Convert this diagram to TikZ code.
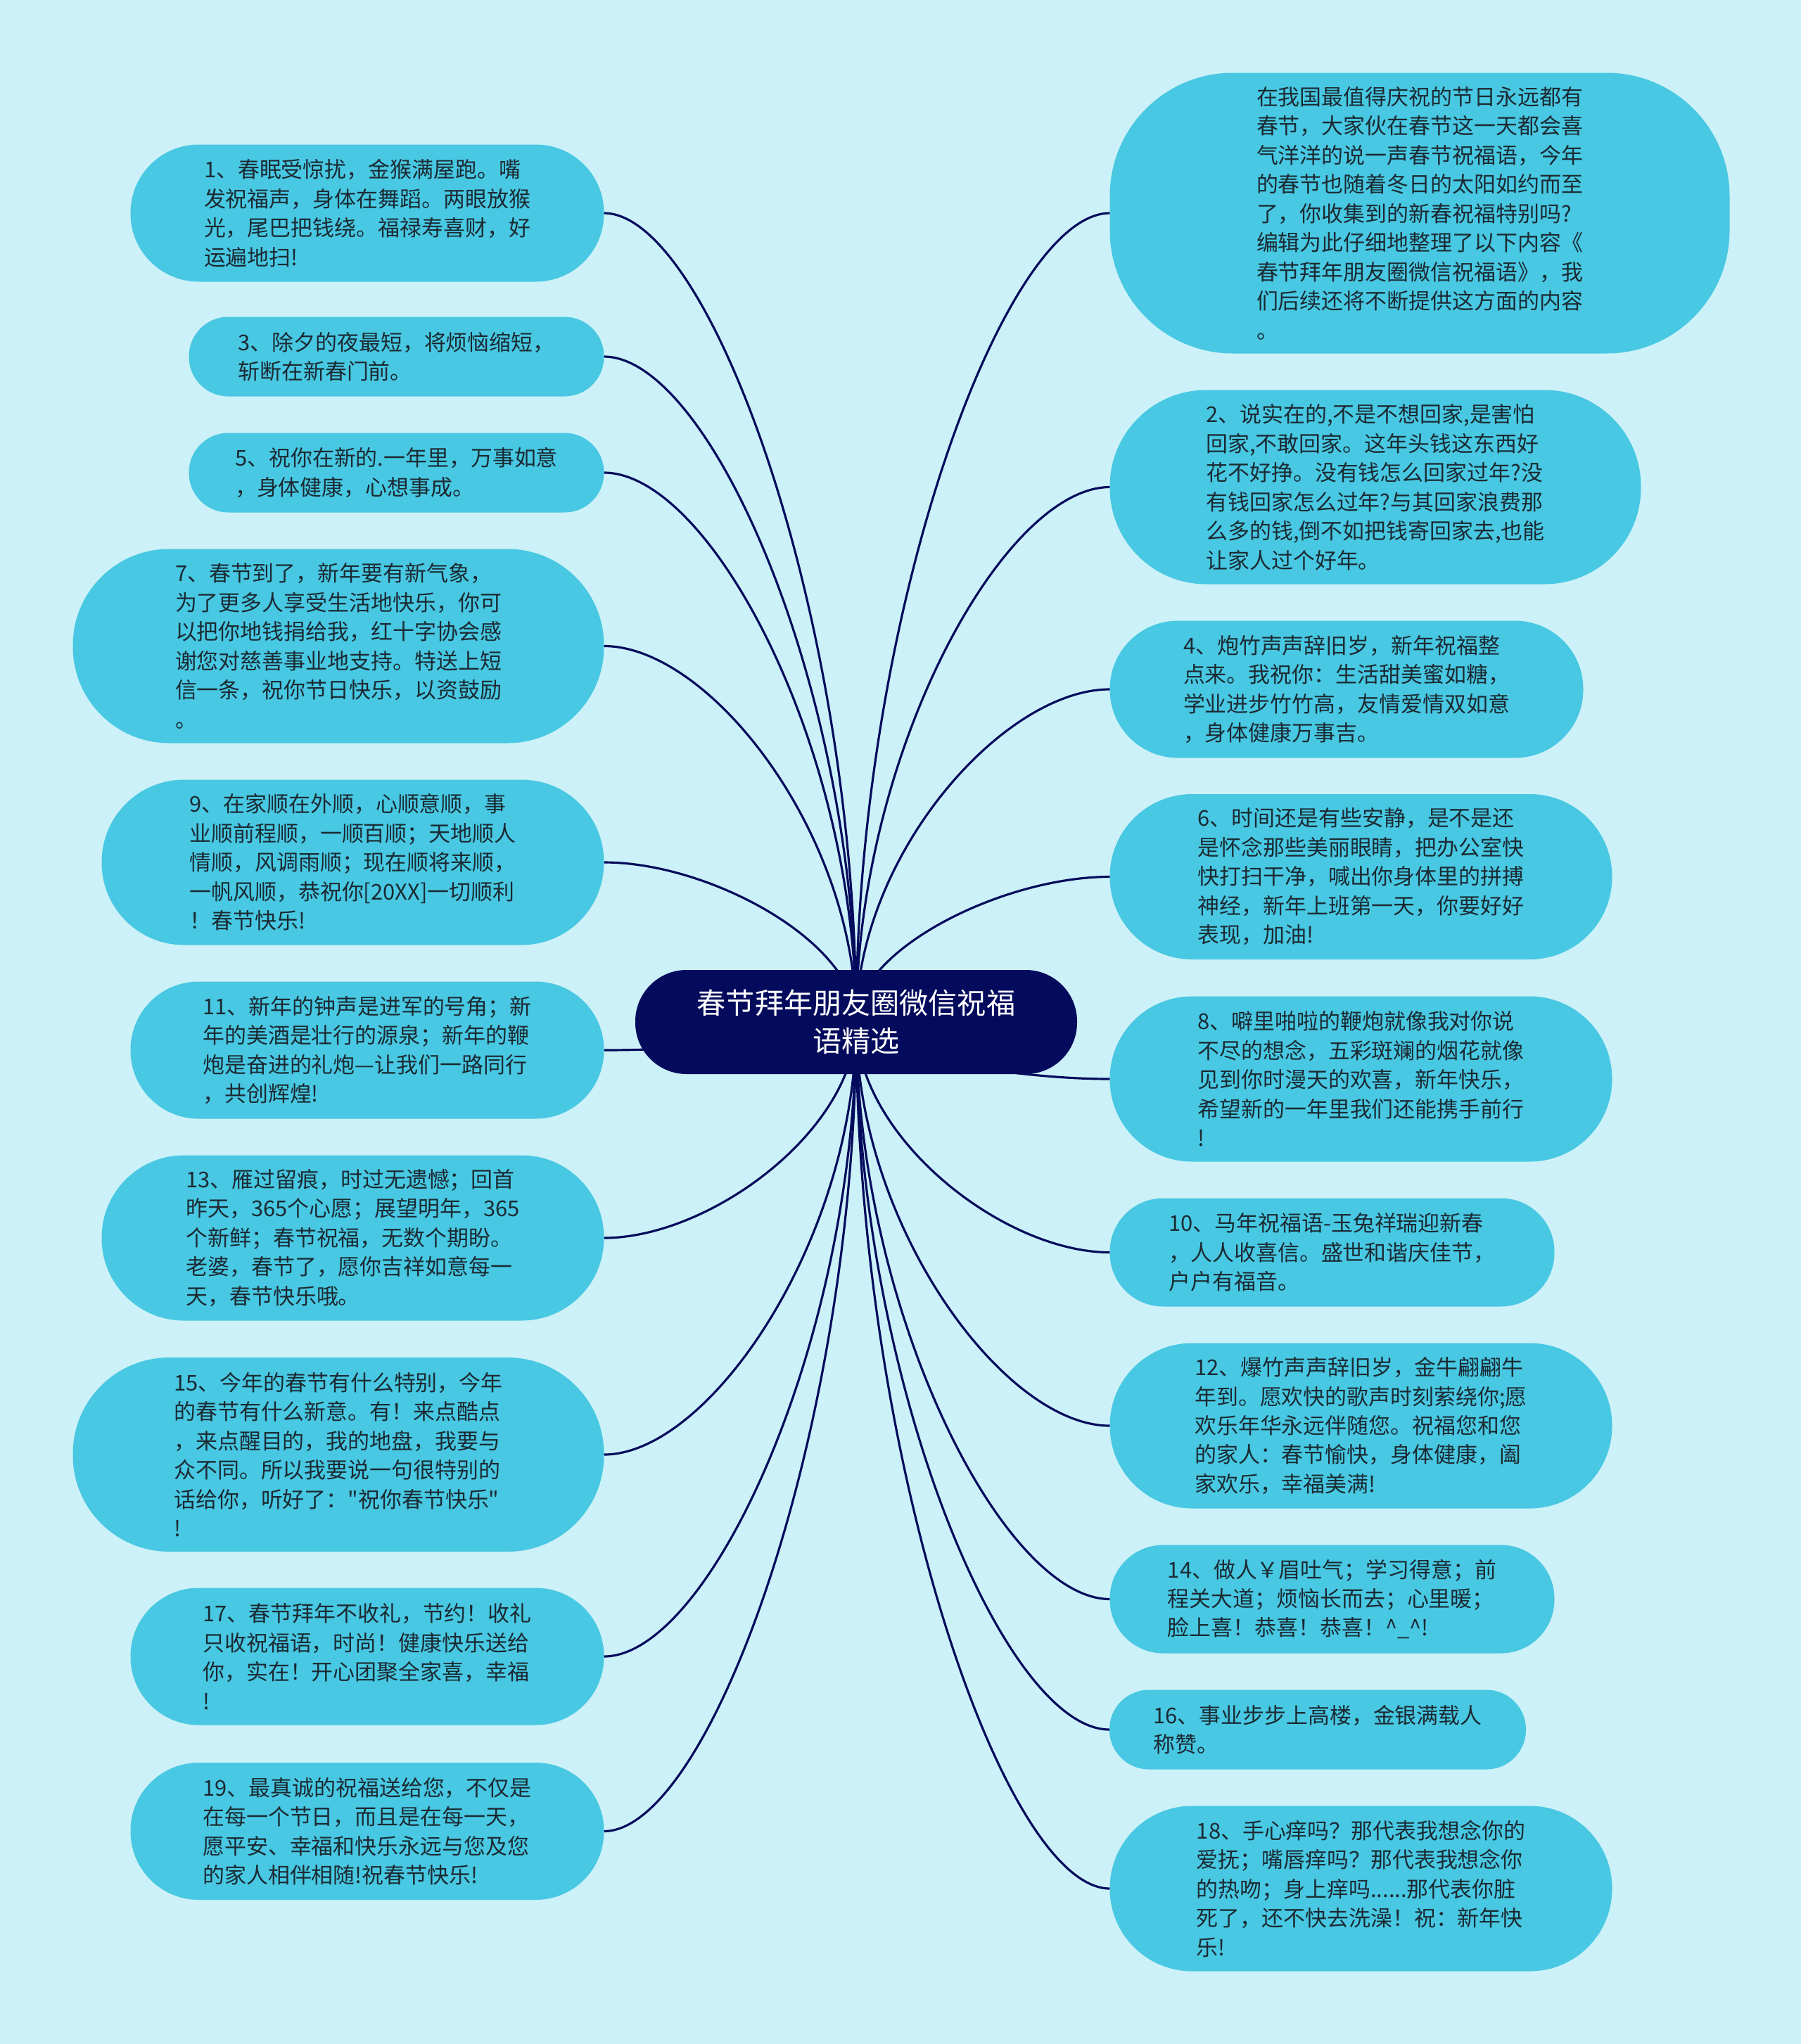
\documentclass[tikz,border=0pt]{standalone}
\usepackage{fontspec}
\setmainfont{Noto Sans CJK SC}[Ligatures=TeXOff]
\usepackage{xcolor}
\usepackage{tikz}
\usetikzlibrary{calc}

\definecolor{pagecyan}{HTML}{CCF1F8}
\definecolor{leafcyan}{HTML}{48C8E2}
\definecolor{navy}{HTML}{040B5C}
\definecolor{inkgray}{HTML}{1B2A33}

\newcommand{\leaffont}{\fontsize{8.8pt}{11.8pt}\selectfont}
\newcommand{\titlefont}{\fontsize{11.7pt}{15.3pt}\selectfont}

\pgfdeclarelayer{links}
\pgfsetlayers{links,main}

\tikzset{
  leaf/.style={fill=leafcyan, text=inkgray, font=\leaffont, align=left,
    inner sep=0pt, outer sep=0pt, rounded corners=#1},
  title/.style={fill=navy, text=white, font=\titlefont, align=center,
    inner sep=0pt, outer sep=0pt, rounded corners=0.73cm,
    minimum width=6.28cm, minimum height=1.48cm},
  link/.style={draw=navy, line width=0.9pt,
    to path={.. controls ($(\tikztostart)!0.5!(\tikztostart |- \tikztotarget)$)
      and ($(\tikztotarget)!0.42!(\tikztostart |- \tikztotarget)$) .. (\tikztotarget)}}
}

\begin{document}
\begin{tikzpicture}
  \useasboundingbox (0,0) rectangle (25.6,-29.06);
  \begin{pgfonlayer}{links}
    \fill[pagecyan] (0,0) rectangle (25.6,-29.06);
  \end{pgfonlayer}

  \node[title] (title) at (12.17,-14.53) {春节拜年朋友圈微信祝福\\语精选};

  % left column
  \node[leaf=0.97cm, minimum width=6.73cm, minimum height=1.95cm] (w1) at (5.22,-3.03)
    {1、春眠受惊扰，金猴满屋跑。嘴\\发祝福声，身体在舞蹈。两眼放猴\\光，尾巴把钱绕。福禄寿喜财，好\\运遍地扫!};
  \node[leaf=0.56cm, minimum width=5.90cm, minimum height=1.13cm] (w3) at (5.635,-5.07)
    {3、除夕的夜最短，将烦恼缩短，\\斩断在新春门前。};
  \node[leaf=0.56cm, minimum width=5.90cm, minimum height=1.13cm] (w5) at (5.635,-6.72)
    {5、祝你在新的.一年里，万事如意\\，身体健康，心想事成。};
  \node[leaf=1.37cm, minimum width=7.55cm, minimum height=2.76cm] (w7) at (4.81,-9.185)
    {7、春节到了，新年要有新气象，\\为了更多人享受生活地快乐，你可\\以把你地钱捐给我，红十字协会感\\谢您对慈善事业地支持。特送上短\\信一条，祝你节日快乐，以资鼓励\\。};
  \node[leaf=1.17cm, minimum width=7.14cm, minimum height=2.35cm] (w9) at (5.015,-12.26)
    {9、在家顺在外顺，心顺意顺，事\\业顺前程顺，一顺百顺；天地顺人\\情顺，风调雨顺；现在顺将来顺，\\一帆风顺，恭祝你[20XX]一切顺利\\！春节快乐!};
  \node[leaf=0.97cm, minimum width=6.73cm, minimum height=1.95cm] (w11) at (5.22,-14.93)
    {11、新年的钟声是进军的号角；新\\年的美酒是壮行的源泉；新年的鞭\\炮是奋进的礼炮—让我们一路同行\\，共创辉煌!};
  \node[leaf=1.17cm, minimum width=7.14cm, minimum height=2.35cm] (w13) at (5.015,-17.60)
    {13、雁过留痕，时过无遗憾；回首\\昨天，365个心愿；展望明年，365\\个新鲜；春节祝福，无数个期盼。\\老婆，春节了，愿你吉祥如意每一\\天，春节快乐哦。};
  \node[leaf=1.37cm, minimum width=7.55cm, minimum height=2.76cm] (w15) at (4.81,-20.68)
    {15、今年的春节有什么特别，今年\\的春节有什么新意。有！来点酷点\\，来点醒目的，我的地盘，我要与\\众不同。所以我要说一句很特别的\\话给你，听好了："祝你春节快乐"\\!};
  \node[leaf=0.97cm, minimum width=6.73cm, minimum height=1.95cm] (w17) at (5.22,-23.55)
    {17、春节拜年不收礼，节约！收礼\\只收祝福语，时尚！健康快乐送给\\你，实在！开心团聚全家喜，幸福\\!};
  \node[leaf=0.97cm, minimum width=6.73cm, minimum height=1.95cm] (w19) at (5.22,-26.035)
    {19、最真诚的祝福送给您，不仅是\\在每一个节日，而且是在每一天，\\愿平安、幸福和快乐永远与您及您\\的家人相伴相随!祝春节快乐!};

  % right column
  \node[leaf=1.75cm, minimum width=8.81cm, minimum height=3.99cm] (intro) at (20.18,-3.03)
    {在我国最值得庆祝的节日永远都有\\春节，大家伙在春节这一天都会喜\\气洋洋的说一声春节祝福语，今年\\的春节也随着冬日的太阳如约而至\\了，你收集到的新春祝福特别吗?\\编辑为此仔细地整理了以下内容《\\春节拜年朋友圈微信祝福语》，我\\们后续还将不断提供这方面的内容\\。};
  \node[leaf=1.37cm, minimum width=7.55cm, minimum height=2.76cm] (w2) at (19.55,-6.925)
    {2、说实在的,不是不想回家,是害怕\\回家,不敢回家。这年头钱这东西好\\花不好挣。没有钱怎么回家过年?没\\有钱回家怎么过年?与其回家浪费那\\么多的钱,倒不如把钱寄回家去,也能\\让家人过个好年。};
  \node[leaf=0.97cm, minimum width=6.73cm, minimum height=1.95cm] (w4) at (19.14,-9.80)
    {4、炮竹声声辞旧岁，新年祝福整\\点来。我祝你：生活甜美蜜如糖，\\学业进步竹竹高，友情爱情双如意\\，身体健康万事吉。};
  \node[leaf=1.17cm, minimum width=7.14cm, minimum height=2.35cm] (w6) at (19.345,-12.465)
    {6、时间还是有些安静，是不是还\\是怀念那些美丽眼睛，把办公室快\\快打扫干净，喊出你身体里的拼搏\\神经，新年上班第一天，你要好好\\表现，加油!};
  \node[leaf=1.17cm, minimum width=7.14cm, minimum height=2.35cm] (w8) at (19.345,-15.34)
    {8、噼里啪啦的鞭炮就像我对你说\\不尽的想念，五彩斑斓的烟花就像\\见到你时漫天的欢喜，新年快乐，\\希望新的一年里我们还能携手前行\\!};
  \node[leaf=0.76cm, minimum width=6.32cm, minimum height=1.54cm] (w10) at (18.935,-17.805)
    {10、马年祝福语-玉兔祥瑞迎新春\\，人人收喜信。盛世和谐庆佳节，\\户户有福音。};
  \node[leaf=1.17cm, minimum width=7.14cm, minimum height=2.35cm] (w12) at (19.345,-20.27)
    {12、爆竹声声辞旧岁，金牛翩翩牛\\年到。愿欢快的歌声时刻萦绕你;愿\\欢乐年华永远伴随您。祝福您和您\\的家人：春节愉快，身体健康，阖\\家欢乐，幸福美满!};
  \node[leaf=0.76cm, minimum width=6.32cm, minimum height=1.54cm] (w14) at (18.935,-22.735)
    {14、做人￥眉吐气；学习得意；前\\程关大道；烦恼长而去；心里暖；\\脸上喜！恭喜！恭喜！\textasciicircum\_\textasciicircum!};
  \node[leaf=0.56cm, minimum width=5.92cm, minimum height=1.13cm] (w16) at (18.73,-24.59)
    {16、事业步步上高楼，金银满载人\\称赞。};
  \node[leaf=1.17cm, minimum width=7.14cm, minimum height=2.35cm] (w18) at (19.345,-26.85)
    {18、手心痒吗？那代表我想念你的\\爱抚；嘴唇痒吗？那代表我想念你\\的热吻；身上痒吗......那代表你脏\\死了，还不快去洗澡！祝：新年快\\乐!};

  \begin{pgfonlayer}{links}
    \draw[link] (title.center) to (w1.east);
    \draw[link] (title.center) to (w3.east);
    \draw[link] (title.center) to (w5.east);
    \draw[link] (title.center) to (w7.east);
    \draw[link] (title.center) to (w9.east);
    \draw[link] (title.center) to (w11.east);
    \draw[link] (title.center) to (w13.east);
    \draw[link] (title.center) to (w15.east);
    \draw[link] (title.center) to (w17.east);
    \draw[link] (title.center) to (w19.east);
    \draw[link] (title.center) to (intro.west);
    \draw[link] (title.center) to (w2.west);
    \draw[link] (title.center) to (w4.west);
    \draw[link] (title.center) to (w6.west);
    \draw[link] (title.center) to (w8.west);
    \draw[link] (title.center) to (w10.west);
    \draw[link] (title.center) to (w12.west);
    \draw[link] (title.center) to (w14.west);
    \draw[link] (title.center) to (w16.west);
    \draw[link] (title.center) to (w18.west);
  \end{pgfonlayer}
\end{tikzpicture}
\end{document}
